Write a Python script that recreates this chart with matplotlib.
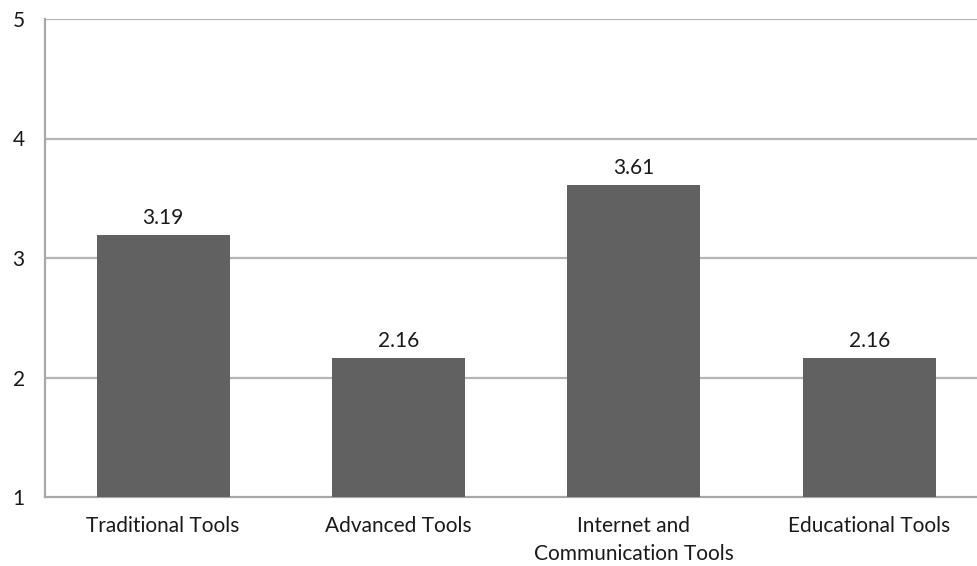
import matplotlib
matplotlib.use("Agg")
import matplotlib.pyplot as plt

categories = ["Traditional Tools", "Advanced Tools", "Internet and\nCommunication Tools", "Educational Tools"]
values = [3.19, 2.16, 3.61, 2.16]
value_labels = ["3.19", "2.16", "3.61", "2.16"]
yticks = [1, 2, 3, 4, 5]

plt.rcParams["font.family"] = ["Lato", "DejaVu Sans"]

W, H = 978, 566
fig = plt.figure(figsize=(W / 100, H / 100), dpi=100)
left, right, top, bottom = 45.5, 987, 19, 497
ax = fig.add_axes([left / W, 1 - bottom / H, (right - left) / W, (bottom - top) / H])

x = list(range(len(categories)))
bars = ax.bar(x, [v - 1 for v in values], bottom=1, width=0.565, color="#616161", zorder=3)
for xi, v, lab in zip(x, values, value_labels):
    ax.text(xi, v + 0.06, lab, ha="center", va="bottom", fontsize=15, color="#1a1a1a")

ax.set_xlim(-0.5, len(categories) - 0.5)
ax.set_ylim(1, 5)
ax.set_yticks(yticks)
ax.set_yticklabels([str(t) for t in yticks], fontsize=15, color="#1a1a1a")
ax.set_xticks(x)
ax.set_xticklabels(categories, fontsize=15, color="#1a1a1a", linespacing=1.5)
ax.tick_params(axis="both", length=0)
ax.tick_params(axis="y", pad=15)
ax.tick_params(axis="x", pad=14)

for t in yticks[1:]:
    ax.axhline(t, color="#b5b5b5", linewidth=1.6, zorder=1)

for side in ["top", "right"]:
    ax.spines[side].set_visible(False)
for side in ["left", "bottom"]:
    ax.spines[side].set_color("#a8a8a8")
    ax.spines[side].set_linewidth(1.6)

fig.savefig("out.png", dpi=100)
